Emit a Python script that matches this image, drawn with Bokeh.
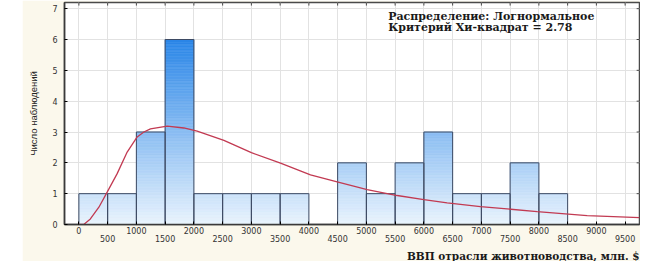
from bokeh.plotting import figure
from bokeh.models import Range1d, FixedTicker, Label, Title, Spacer
from bokeh.layouts import row
from bokeh.embed import file_html
from bokeh.resources import INLINE

# ---- data ----
bin_left = [0, 500, 1000, 1500, 2000, 2500, 3000, 3500, 4000, 4500,
            5000, 5500, 6000, 6500, 7000, 7500, 8000]
bin_width = 500
counts = [1, 1, 3, 6, 1, 1, 1, 1, 0, 2, 1, 2, 3, 1, 1, 2, 1]

curve_x = [0, 90, 200, 348, 492, 666, 840, 1014, 1130, 1245, 1536, 1826,
           2057, 2522, 3000, 3507, 4028, 4492, 5014, 5536, 6000, 6405, 6984,
           7970, 8840, 9750]
curve_y = [0.0, 0.01, 0.18, 0.56, 1.05, 1.65, 2.35, 2.84, 3.0, 3.10, 3.19,
           3.13, 3.03, 2.73, 2.33, 1.99, 1.61, 1.38, 1.13, 0.94, 0.81, 0.70,
           0.58, 0.42, 0.29, 0.22]

x_ticks_row1 = [0, 1000, 2000, 3000, 4000, 5000, 6000, 7000, 8000, 9000]
x_ticks_row2 = [500, 1500, 2500, 3500, 4500, 5500, 6500, 7500, 8500, 9500]
y_ticks = [0, 1, 2, 3, 4, 5, 6, 7]

x_title = "ВВП отрасли животноводства, млн. $"
y_title = "Число наблюдений"
note_1 = "Распределение: Логнормальное"
note_2 = "Критерий Хи-квадрат = 2.78"

# ---- styling ----
cream = "#fbf8ec"
top_rgb = (42, 134, 232)
bot_rgb = (234, 244, 253)
grad_max = 6.0
x_lo, x_hi = -250, 9750
y_lo, y_hi = 0, 7.2


def grad_color(v):
    t = max(0.0, min(1.0, v / grad_max))
    r = round(bot_rgb[0] + (top_rgb[0] - bot_rgb[0]) * t)
    g = round(bot_rgb[1] + (top_rgb[1] - bot_rgb[1]) * t)
    b = round(bot_rgb[2] + (top_rgb[2] - bot_rgb[2]) * t)
    return "#%02x%02x%02x" % (r, g, b)


p = figure(width=618, height=261, x_range=Range1d(x_lo, x_hi),
           y_range=Range1d(y_lo, y_hi), output_backend="svg",
           toolbar_location=None, min_border_left=42, min_border_right=1,
           min_border_top=2, min_border_bottom=0)
p.background_fill_color = "white"
p.border_fill_color = cream
p.outline_line_color = "#4a4a4a"
p.outline_line_width = 1.5

all_x = sorted(x_ticks_row1 + x_ticks_row2)
p.xgrid.ticker = FixedTicker(ticks=all_x)
p.ygrid.ticker = FixedTicker(ticks=y_ticks)
p.grid.grid_line_color = "#e2e2e2"
p.grid.grid_line_width = 1

tick_font = "DejaVu Sans"

xa = p.xaxis[0]
xa.ticker = FixedTicker(ticks=all_x)
overrides = {}
for t in x_ticks_row1:
    overrides[t] = str(t)
for t in x_ticks_row2:
    overrides[t] = "\n" + str(t)
xa.major_label_overrides = overrides
xa.major_tick_in = 3
xa.major_tick_out = 0
xa.minor_tick_line_color = None
xa.axis_line_color = "#3a3a3a"
xa.axis_line_width = 1.5
xa.major_label_text_font = tick_font
xa.major_label_text_font_size = "8px"
xa.major_label_text_color = "#333333"
xa.major_label_text_line_height = 0.95
xa.major_label_standoff = 2

p.add_layout(Title(text=x_title, align="right", text_font="DejaVu Serif",
                   text_font_style="bold", text_font_size="10.5px",
                   text_line_height=1.0, text_color="#1a1a1a",
                   standoff=0, offset=0), "below")

ya = p.yaxis[0]
ya.ticker = FixedTicker(ticks=y_ticks)
ya.major_tick_in = 3
ya.major_tick_out = 0
ya.minor_tick_line_color = None
ya.axis_line_color = "#3a3a3a"
ya.axis_line_width = 1.5
ya.major_label_text_font = tick_font
ya.major_label_text_font_size = "8px"
ya.major_label_text_color = "#333333"
ya.major_label_standoff = 7
ya.axis_label = y_title
ya.axis_label_text_font = "Liberation Sans"
ya.axis_label_text_font_style = "normal"
ya.axis_label_text_font_size = "9.5px"
ya.axis_label_text_color = "#222222"
ya.axis_label_standoff = 10

# inward tick marks on the top and right frame edges, from the tick lists
tick_y_len = 0.1
tick_x_len = 50
p.segment(x0=all_x, y0=[y_hi] * len(all_x), x1=all_x,
          y1=[y_hi - tick_y_len] * len(all_x), line_color="#4a4a4a",
          line_width=1)
p.segment(x0=[x_hi] * len(y_ticks), y0=y_ticks,
          x1=[x_hi - tick_x_len] * len(y_ticks), y1=y_ticks,
          line_color="#4a4a4a", line_width=1)

# ---- gradient bars built from thin strips ----
step = 0.05
sl, sr, sb, st, sc = [], [], [], [], []
for left, c in zip(bin_left, counts):
    n = int(round(c / step))
    for k in range(n):
        b = k * step
        t = (k + 1) * step
        sl.append(left)
        sr.append(left + bin_width)
        sb.append(b)
        st.append(t)
        sc.append(grad_color((b + t) / 2))
p.quad(left=sl, right=sr, bottom=sb, top=st, fill_color=sc, line_color=sc,
       line_width=0.6)

ol = [l for l, c in zip(bin_left, counts) if c > 0]
orr = [l + bin_width for l, c in zip(bin_left, counts) if c > 0]
ot = [c for c in counts if c > 0]
p.quad(left=ol, right=orr, bottom=0, top=ot, fill_color=None,
       line_color="#3d4a63", line_width=1)

p.line(curve_x, curve_y, line_color="#c23a52", line_width=1.3)

note_style = dict(text_font="DejaVu Serif", text_font_style="bold",
                  text_font_size="11px", text_color="#1a1a1a")
p.add_layout(Label(x=5380, y=6.74, text=note_1, text_baseline="middle",
                   **note_style))
p.add_layout(Label(x=5380, y=6.38, text=note_2, text_baseline="middle",
                   **note_style))

layout = row(Spacer(width=22, height=261), p)
open("out.html", "w").write(file_html(layout, INLINE))
